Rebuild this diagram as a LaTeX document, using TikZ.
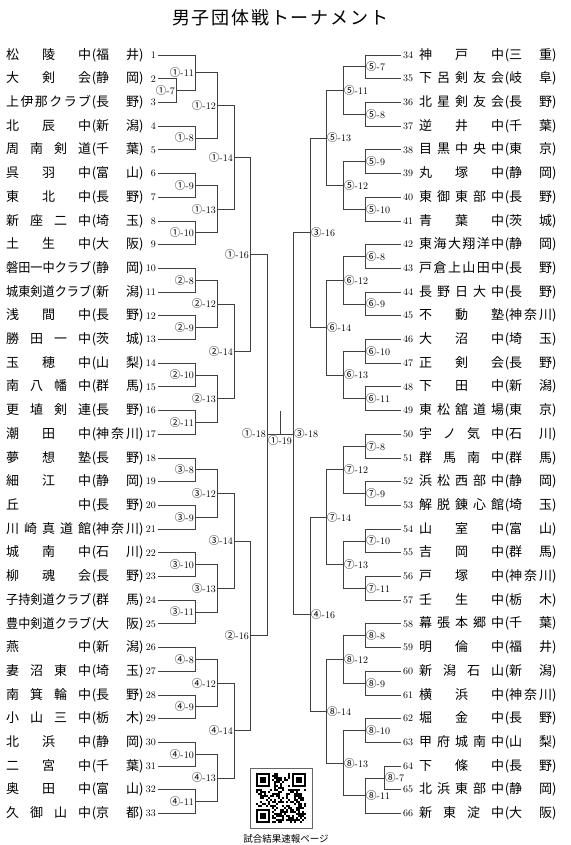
\documentclass[tikz,border=0pt]{standalone}
\usepackage{fontspec}
\usepackage{graphicx}
\newfontfamily\jp{Noto Sans CJK JP}

% spread the characters of a word over a box
\def\spr#1{\sprA#1\relax}
\def\sprA#1{#1\futurelet\sprnext\sprB}
\def\sprB{\ifx\sprnext\relax\expandafter\sprend\else\hfill\expandafter\sprA\fi}
\def\sprend#1{}
\newsavebox\fitsave
\newcommand\fitbox[2]{%
  \edef\fittmp{#2}%
  \sbox\fitsave{\expandafter\spr\expandafter{\fittmp}}%
  \ifdim\wd\fitsave>#1\relax
    \resizebox{#1}{\height}{\usebox\fitsave}%
  \else
    \hbox to #1{\expandafter\spr\expandafter{\fittmp}}%
  \fi}
\newcommand\entry[2]{\fitbox{85pt}{#1}\hbox to 5pt{\hss(}\fitbox{43pt}{#2}\hbox to 6pt{)\hss}}
\newcommand\circnum[1]{{\jp\fontsize{10.5}{10.5}\selectfont\ifcase#1\or①\or②\or③\or④\or⑤\or⑥\or⑦\or⑧\fi}}

\tikzset{
  bline/.style={draw=black!75, line width=0.7pt},
  lbl/.style={font=\fontsize{10}{10}\selectfont, inner sep=1pt},
  tname/.style={font=\jp\fontsize{13}{13}\selectfont, inner sep=0pt, anchor=west},
  tnum/.style={font=\fontsize{10}{10}\selectfont, inner sep=0pt},
}

% one bout: top entry, bottom entry, x of the join, group, number
\newcommand\match[6][left]{%
  \draw[bline] (#2) -| (#4,0 |- #3) -- (#3);
  \path (#4,0 |- #2) -- coordinate[midway] (g#5m#6) (#4,0 |- #3);
  \node[lbl,#1] at (g#5m#6) {\circnum{#5}-#6};
}

\begin{document}
\begin{tikzpicture}[x=1pt, y=-1pt]
  \path[fill=white, use as bounding box] (0,0) rectangle (570,845);

  \node[font=\jp\fontsize{18}{18}\selectfont] (title) at (280,18)
    {\hbox to 216pt{\spr{男子団体戦トーナメント}}};

  % teams, left side
  \foreach \nm/\pf [count=\i] in {松陵中/福井,大剣会/静岡,上伊那クラブ/長野,
    北辰中/新潟,周南剣道/千葉,呉羽中/富山,東北中/長野,新座二中/埼玉,土生中/大阪,
    磐田一中クラブ/静岡,城東剣道クラブ/新潟,浅間中/長野,勝田一中/茨城,玉穂中/山梨,
    南八幡中/群馬,更埴剣連/長野,潮田中/神奈川,夢想塾/長野,細江中/静岡,丘中/長野,
    川崎真道館/神奈川,城南中/石川,柳魂会/長野,子持剣道クラブ/群馬,豊中剣道クラブ/大阪,
    燕中/新潟,妻沼東中/埼玉,南箕輪中/長野,小山三中/栃木,北浜中/静岡,二宮中/千葉,
    奥田中/富山,久御山中/京都} {
    \pgfmathsetmacro\yy{55+(\i-1)*23.7}
    \coordinate (t\i) at (158,\yy);
    \node[tname] at (6,\yy) {\entry{\nm}{\pf}};
    \node[tnum, anchor=east] at (156,\yy) {\i};
  }

  % teams, right side
  \foreach \nm/\pf [count=\i from 34] in {神戸中/三重,下呂剣友会/岐阜,北星剣友会/長野,
    逆井中/千葉,目黒中央中/東京,丸塚中/静岡,東御東部中/長野,青葉中/茨城,
    東海大翔洋中/静岡,戸倉上山田中/長野,長野日大中/長野,不動塾/神奈川,大沼中/埼玉,
    正剣会/長野,下田中/新潟,東松舘道場/東京,宇ノ気中/石川,群馬南中/群馬,
    浜松西部中/静岡,解脱錬心館/埼玉,山室中/富山,吉岡中/群馬,戸塚中/神奈川,
    壬生中/栃木,幕張本郷中/千葉,明倫中/福井,新潟石山/新潟,横浜中/神奈川,堀金中/長野,
    甲府城南中/山梨,下條中/長野,北浜東部中/静岡,新東淀中/大阪} {
    \pgfmathsetmacro\yy{55+(\i-34)*23.7}
    \coordinate (t\i) at (401,\yy);
    \node[tnum, anchor=west] at (403,\yy) {\i};
    \node[tname] at (419,\yy) {\entry{\nm}{\pf}};
  }

  % group 1
  \match{t2}{t3}{176}{1}{7}
  \match{t1}{g1m7}{195}{1}{11}
  \match{t4}{t5}{195}{1}{8}
  \match{g1m11}{g1m8}{217}{1}{12}
  \match{t6}{t7}{195}{1}{9}
  \match{t8}{t9}{195}{1}{10}
  \match{g1m9}{g1m10}{217}{1}{13}
  \match{g1m12}{g1m13}{234}{1}{14}

  % group 5
  \match[right]{t34}{t35}{365}{5}{7}
  \match[right]{t36}{t37}{365}{5}{8}
  \match[right]{g5m7}{g5m8}{343}{5}{11}
  \match[right]{t38}{t39}{365}{5}{9}
  \match[right]{t40}{t41}{365}{5}{10}
  \match[right]{g5m9}{g5m10}{343}{5}{12}
  \match[right]{g5m11}{g5m12}{326}{5}{13}

  % group 8
  \match[right]{t58}{t59}{365}{8}{8}
  \match[right]{t60}{t61}{365}{8}{9}
  \match[right]{g8m8}{g8m9}{343}{8}{12}
  \match[right]{t62}{t63}{365}{8}{10}
  \match[right]{t64}{t65}{384}{8}{7}
  \match[right]{g8m7}{t66}{365}{8}{11}
  \match[right]{g8m10}{g8m11}{343}{8}{13}
  \match[right]{g8m12}{g8m13}{326}{8}{14}

  % groups of eight
  \foreach \g/\s/\sd/\xa/\xb/\xc in {2/10/left/195/217/234, 3/18/left/195/217/234,
      4/26/left/195/217/234, 6/42/right/365/343/326, 7/50/right/365/343/326} {
    \pgfmathtruncatemacro\ra{\s+1}
    \pgfmathtruncatemacro\rb{\s+2}
    \pgfmathtruncatemacro\rc{\s+3}
    \pgfmathtruncatemacro\rd{\s+4}
    \pgfmathtruncatemacro\re{\s+5}
    \pgfmathtruncatemacro\rf{\s+6}
    \pgfmathtruncatemacro\rg{\s+7}
    \match[\sd]{t\s}{t\ra}{\xa}{\g}{8}
    \match[\sd]{t\rb}{t\rc}{\xa}{\g}{9}
    \match[\sd]{g\g m8}{g\g m9}{\xb}{\g}{12}
    \match[\sd]{t\rd}{t\re}{\xa}{\g}{10}
    \match[\sd]{t\rf}{t\rg}{\xa}{\g}{11}
    \match[\sd]{g\g m10}{g\g m11}{\xb}{\g}{13}
    \match[\sd]{g\g m12}{g\g m13}{\xc}{\g}{14}
  }

  % semi-finals
  \match{g1m14}{g2m14}{250}{1}{16}
  \match{g3m14}{g4m14}{250}{2}{16}
  \match[right]{g5m13}{g6m14}{310}{3}{16}
  \match[right]{g7m14}{g8m14}{310}{4}{16}

  % final
  \coordinate (fl) at (267,434);
  \coordinate (fr) at (293,434);
  \coordinate (fm) at (280,434);
  \coordinate (ftop) at (280,411);
  \draw[bline] (g1m16) -| (fl |- g2m16) -- (g2m16);
  \draw[bline] (g3m16) -| (fr |- g4m16) -- (g4m16);
  \draw[bline] (fl) -- (fr);
  \draw[bline] (fm) -- (ftop);
  \node[lbl, left] at (fl) {\circnum1-18};
  \node[lbl, right] at (fr) {\circnum3-18};
  \node[lbl, below] at (fm) {\circnum1-19};

  % QR code
  \draw[draw=black!60, line width=0.6pt] (250,768) rectangle (312,828);
  \begin{scope}[shift={(256,773)}]
    \pgfmathsetseed{42}
    \foreach \i in {0,...,24} \foreach \j in {0,...,24} {
      \pgfmathtruncatemacro\qin{((\i<8)&&(\j<8))||((\i>16)&&(\j<8))||((\i<8)&&(\j>16))}
      \pgfmathtruncatemacro\qr{random(0,1)}
      \ifnum\qin=0 \ifnum\qr=1 \fill (2*\i,2*\j) rectangle ++(2,2); \fi\fi
    }
    \foreach \px/\py in {0/0,36/0,0/36} {
      \fill (\px,\py) rectangle ++(14,14);
      \fill[white] (\px+2,\py+2) rectangle ++(10,10);
      \fill (\px+4,\py+4) rectangle ++(6,6);
    }
  \end{scope}
  \node[font=\jp\fontsize{9.5}{9.5}\selectfont] (qrcap) at (286,839) {試合結果速報ページ};
\end{tikzpicture}
\end{document}
